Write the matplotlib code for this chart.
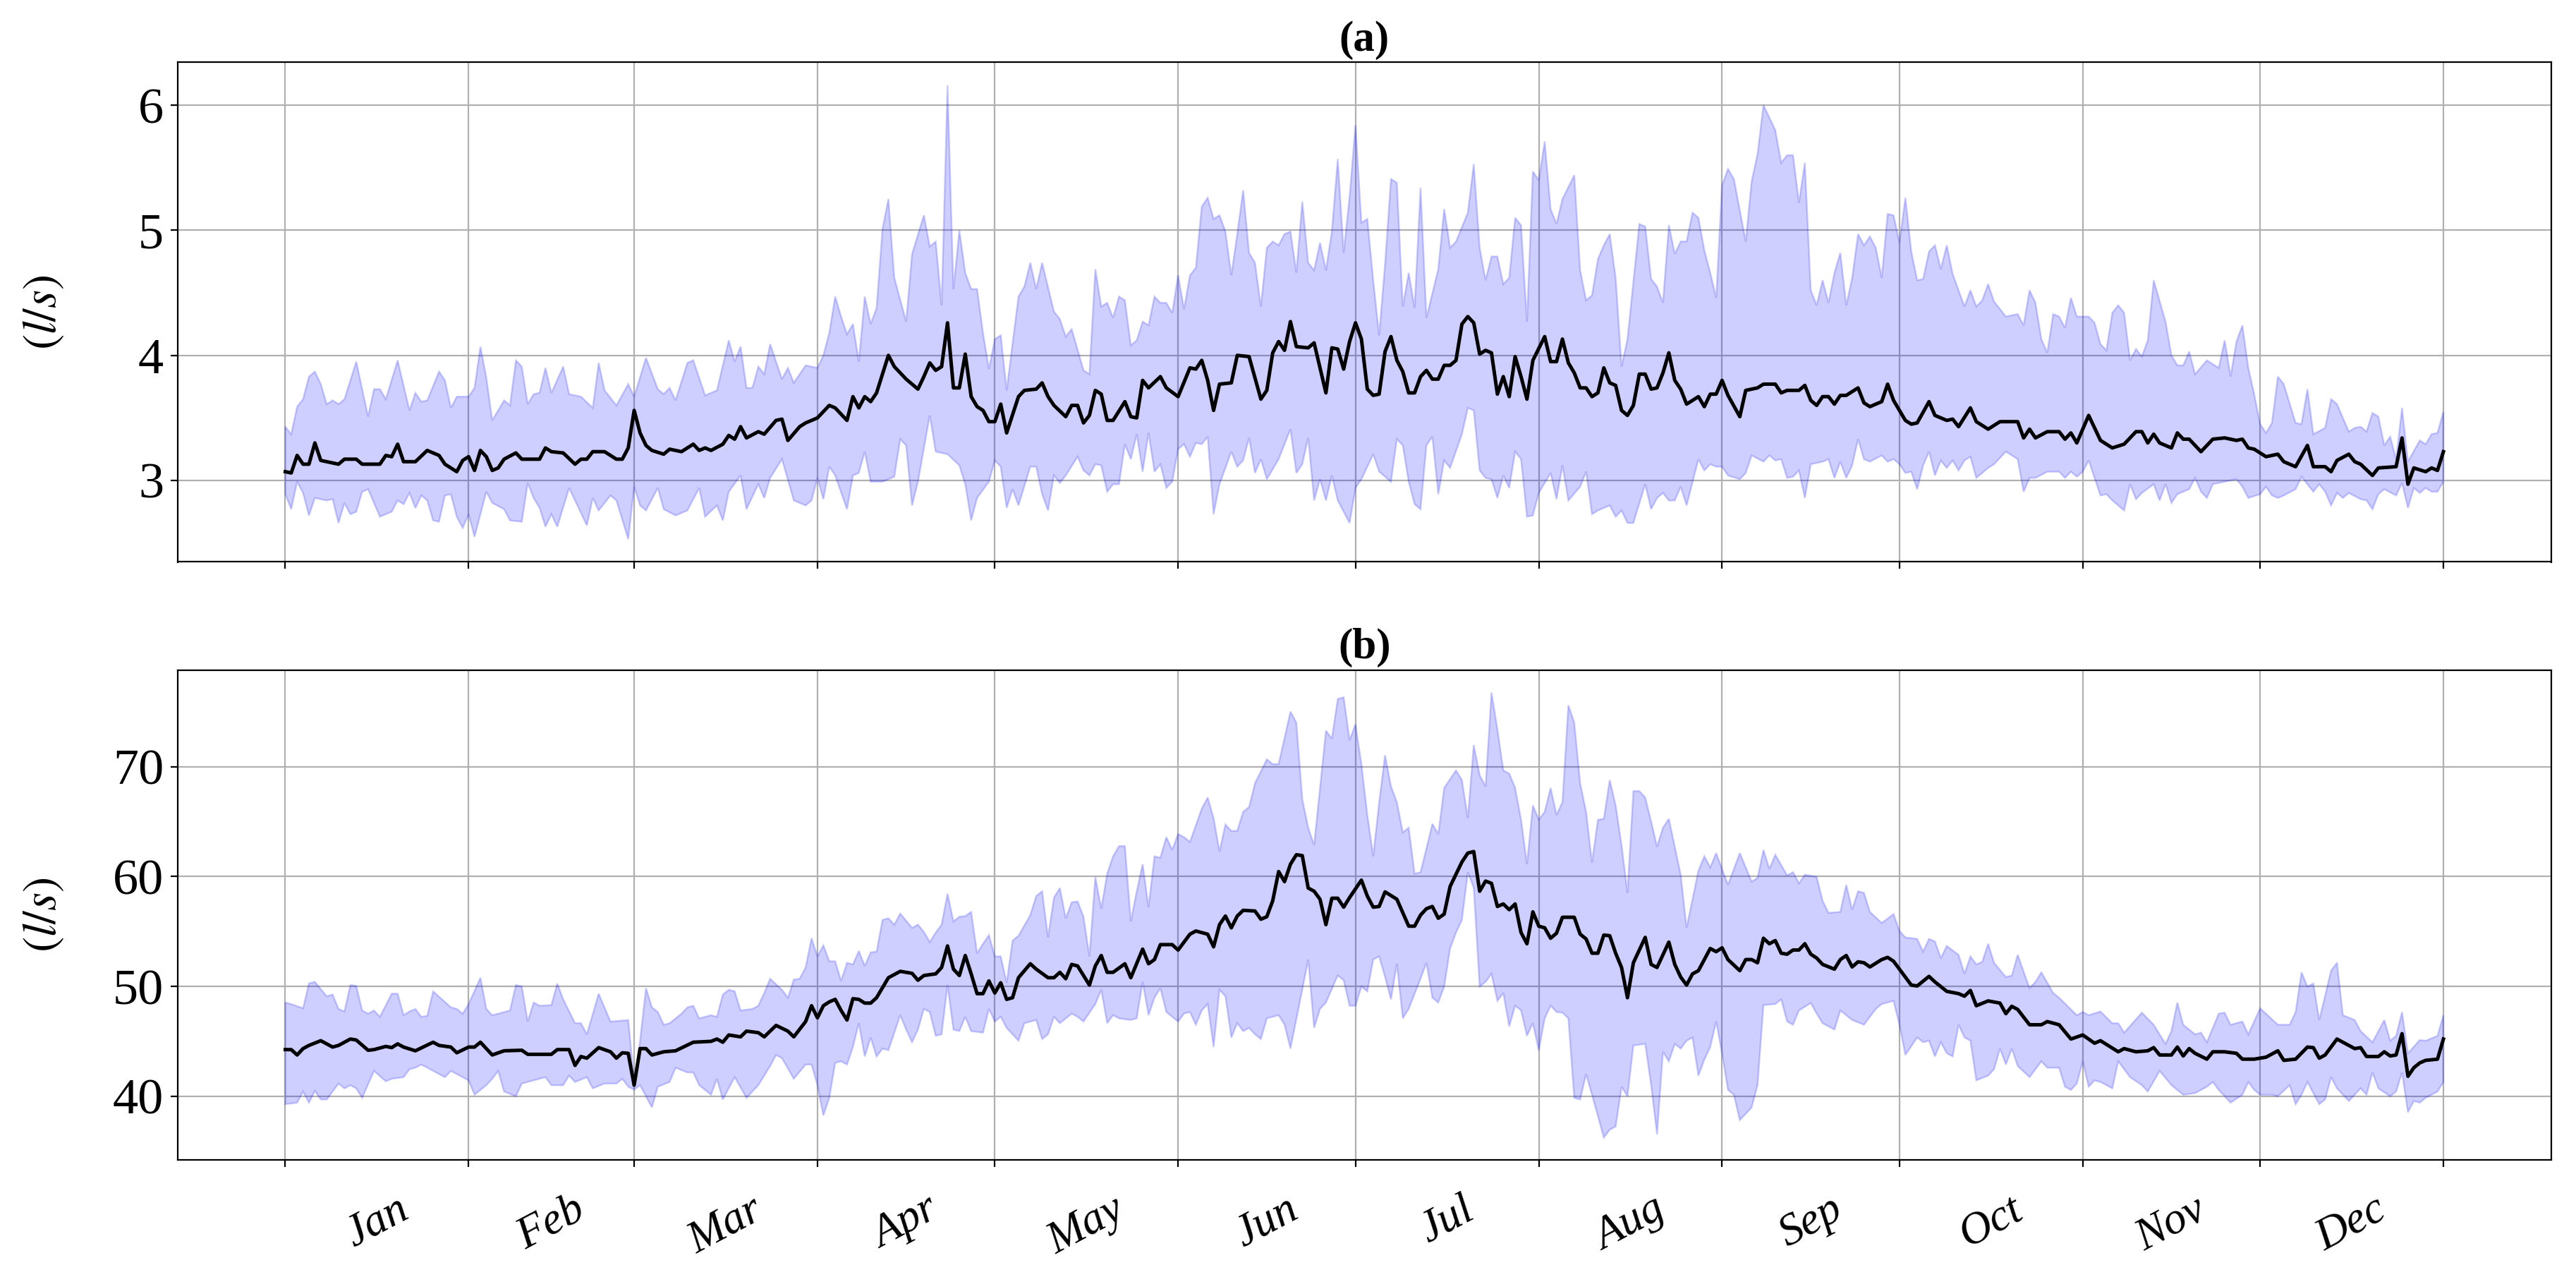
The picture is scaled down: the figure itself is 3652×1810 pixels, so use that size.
import numpy as np
import matplotlib
matplotlib.use("Agg")
import matplotlib.pyplot as plt
from matplotlib.ticker import FixedLocator, FixedFormatter, NullFormatter

plt.rcParams['font.family'] = ['Liberation Serif', 'DejaVu Serif']
plt.rcParams['mathtext.fontset'] = 'stix'

# ---------------- data ----------------
month_starts = [0, 31, 59, 90, 120, 151, 181, 212, 243, 273, 304, 334, 365]
month_names = ['Jan', 'Feb', 'Mar', 'Apr', 'May', 'Jun',
               'Jul', 'Aug', 'Sep', 'Oct', 'Nov', 'Dec']
panel_titles = ['(a)', '(b)']
y_label = '$(l/s)$'
a_yticks = [3, 4, 5, 6]
b_yticks = [40, 50, 60, 70]

# panel (a): (day of year, value)
a_mean = [(0,3.07),(1,3.06),(2,3.20),(3,3.13),(4,3.13),(5,3.30),(6,3.16),(9,3.13),(10,3.17),(12,3.17),(13,3.13),(16,3.13),(17,3.20),(18,3.19),(19,3.29),(20,3.15),(22,3.15),(24,3.24),(26,3.20),(27,3.13),(29,3.07),(30,3.16),(31,3.19),(32,3.08),(33,3.24),(34,3.19),(35,3.08),(36,3.10),(37,3.17),(39,3.22),(40,3.17),(43,3.17),(44,3.26),(45,3.23),(47,3.22),(49,3.13),(50,3.17),(51,3.17),(52,3.23),(54,3.23),(56,3.17),(57,3.17),(58,3.26),(59,3.56),(60,3.38),(61,3.28),(62,3.24),(64,3.21),(65,3.25),(67,3.23),(69,3.29),(70,3.24),(71,3.26),(72,3.24),(74,3.29),(75,3.36),(76,3.33),(77,3.43),(78,3.34),(80,3.39),(81,3.37),(83,3.48),(84,3.49),(85,3.32),(87,3.43),(88,3.46),(90,3.50),(92,3.60),(93,3.58),(95,3.48),(96,3.67),(97,3.58),(98,3.67),(99,3.63),(100,3.70),(102,4.00),(103,3.91),(105,3.81),(107,3.73),(108,3.83),(109,3.94),(110,3.88),(111,3.91),(112,4.26),(113,3.74),(114,3.74),(115,4.01),(116,3.67),(117,3.59),(118,3.56),(119,3.47),(120,3.47),(121,3.61),(122,3.38),(124,3.67),(125,3.72),(127,3.73),(128,3.78),(129,3.67),(130,3.60),(132,3.51),(133,3.60),(134,3.60),(135,3.46),(136,3.52),(137,3.72),(138,3.69),(139,3.48),(140,3.48),(142,3.63),(143,3.51),(144,3.50),(145,3.80),(146,3.74),(148,3.83),(149,3.74),(151,3.67),(153,3.90),(154,3.89),(155,3.96),(156,3.80),(157,3.56),(158,3.77),(160,3.78),(161,4.00),(163,3.99),(165,3.65),(166,3.72),(167,4.02),(168,4.11),(169,4.04),(170,4.27),(171,4.07),(173,4.06),(174,4.10),(175,3.90),(176,3.70),(177,4.06),(178,4.05),(179,3.89),(180,4.11),(181,4.26),(182,4.13),(183,3.73),(184,3.68),(185,3.69),(186,4.03),(187,4.15),(188,3.96),(189,3.87),(190,3.70),(191,3.70),(192,3.83),(193,3.88),(194,3.81),(195,3.81),(196,3.92),(197,3.92),(198,3.96),(199,4.25),(200,4.31),(201,4.26),(202,4.01),(203,4.04),(204,4.02),(205,3.69),(206,3.83),(207,3.67),(208,3.99),(209,3.83),(210,3.65),(211,3.96),(213,4.15),(214,3.95),(215,3.95),(216,4.13),(217,3.94),(218,3.86),(219,3.74),(220,3.74),(221,3.67),(222,3.70),(223,3.90),(224,3.78),(225,3.76),(226,3.56),(227,3.52),(228,3.60),(229,3.85),(230,3.85),(231,3.73),(232,3.74),(233,3.86),(234,4.02),(235,3.80),(236,3.73),(237,3.61),(239,3.67),(240,3.59),(241,3.69),(242,3.69),(243,3.80),(244,3.68),(246,3.51),(247,3.72),(249,3.74),(250,3.77),(252,3.77),(253,3.70),(254,3.72),(256,3.72),(257,3.76),(258,3.64),(259,3.60),(260,3.67),(261,3.67),(262,3.61),(263,3.68),(264,3.68),(266,3.74),(267,3.62),(268,3.59),(270,3.63),(271,3.77),(272,3.64),(273,3.56),(274,3.48),(275,3.45),(276,3.46),(278,3.63),(279,3.52),(281,3.48),(282,3.49),(283,3.43),(285,3.58),(286,3.47),(288,3.41),(290,3.47),(293,3.47),(294,3.34),(295,3.41),(296,3.34),(298,3.39),(300,3.39),(301,3.33),(302,3.38),(303,3.30),(305,3.52),(307,3.32),(309,3.26),(311,3.29),(313,3.39),(314,3.39),(315,3.30),(316,3.37),(317,3.30),(319,3.26),(320,3.38),(321,3.33),(322,3.33),(324,3.23),(326,3.33),(328,3.34),(330,3.32),(331,3.33),(332,3.26),(333,3.25),(335,3.19),(337,3.21),(338,3.15),(340,3.11),(342,3.28),(343,3.11),(345,3.11),(346,3.07),(347,3.16),(349,3.21),(350,3.15),(351,3.13),(353,3.04),(354,3.10),(357,3.11),(358,3.34),(359,2.97),(360,3.10),(362,3.07),(363,3.10),(364,3.08),(365,3.23)]

a_upper = [(0,3.43),(1,3.37),(2,3.59),(3,3.65),(4,3.83),(5,3.87),(6,3.77),(7,3.61),(8,3.64),(9,3.61),(10,3.65),(12,3.95),(14,3.51),(15,3.73),(16,3.73),(17,3.65),(19,3.96),(21,3.56),(22,3.70),(23,3.63),(24,3.64),(26,3.87),(27,3.80),(28,3.58),(29,3.67),(31,3.67),(32,3.74),(33,4.07),(34,3.82),(35,3.48),(37,3.64),(38,3.60),(39,3.96),(40,3.91),(41,3.61),(42,3.69),(43,3.70),(44,3.90),(45,3.70),(47,3.91),(48,3.69),(50,3.67),(52,3.58),(53,3.94),(54,3.72),(56,3.60),(58,3.77),(59,3.67),(61,3.98),(63,3.73),(64,3.69),(65,3.74),(66,3.64),(68,3.94),(69,3.96),(71,3.68),(73,3.72),(75,4.12),(76,3.95),(77,4.07),(78,3.74),(79,3.74),(80,3.91),(81,3.85),(82,4.09),(84,3.81),(85,3.90),(86,3.78),(88,3.92),(90,3.90),(91,4.00),(92,4.18),(93,4.47),(94,4.31),(95,4.17),(96,4.25),(97,3.95),(98,4.47),(99,4.25),(100,4.38),(101,5.01),(102,5.25),(103,4.62),(105,4.27),(106,4.81),(108,5.12),(109,4.87),(110,4.91),(111,4.40),(112,6.16),(113,4.53),(114,5.00),(115,4.66),(116,4.53),(117,4.53),(118,4.18),(119,3.89),(120,4.13),(121,4.16),(122,3.72),(124,4.47),(125,4.55),(126,4.74),(127,4.53),(128,4.74),(130,4.35),(131,4.29),(132,4.15),(133,4.21),(135,3.88),(136,3.85),(137,4.69),(138,4.39),(139,4.42),(140,4.30),(141,4.47),(142,4.44),(143,4.08),(144,4.12),(145,4.27),(146,4.24),(147,4.47),(148,4.42),(149,4.42),(150,4.34),(151,4.64),(152,4.37),(153,4.64),(154,4.70),(155,5.19),(156,5.26),(157,5.09),(158,5.12),(159,4.99),(160,4.64),(161,4.97),(162,5.32),(163,4.82),(164,4.74),(165,4.39),(166,4.86),(167,4.91),(168,4.88),(169,4.97),(170,4.99),(171,4.66),(172,5.23),(173,4.74),(174,4.68),(175,4.90),(176,4.68),(177,4.99),(178,5.57),(179,4.82),(180,5.27),(181,5.84),(182,5.06),(183,5.09),(184,4.60),(185,4.16),(186,4.73),(187,5.41),(188,5.38),(189,4.39),(190,4.66),(191,4.38),(192,5.34),(193,4.30),(195,4.69),(196,5.17),(197,4.86),(198,4.91),(200,5.14),(201,5.53),(202,4.86),(203,4.60),(204,4.79),(205,4.79),(206,4.57),(207,4.62),(208,5.10),(209,5.04),(210,4.27),(211,5.47),(212,5.40),(213,5.71),(214,5.17),(215,5.05),(216,5.25),(218,5.44),(219,4.68),(220,4.44),(221,4.48),(222,4.77),(223,4.88),(224,4.97),(225,4.62),(226,3.91),(227,4.13),(229,5.05),(230,5.03),(231,4.61),(232,4.55),(233,4.42),(234,5.04),(235,4.81),(236,4.91),(237,4.91),(238,5.14),(239,5.10),(240,4.84),(241,4.66),(242,4.46),(243,5.36),(244,5.49),(245,5.41),(247,4.91),(248,5.39),(249,5.61),(250,6.00),(252,5.80),(253,5.54),(254,5.60),(255,5.60),(256,5.22),(257,5.54),(258,4.52),(259,4.40),(260,4.60),(261,4.42),(262,4.66),(263,4.82),(264,4.40),(265,4.62),(266,4.97),(267,4.88),(268,4.95),(269,4.86),(270,4.62),(271,5.13),(272,5.12),(273,4.90),(274,5.26),(275,4.83),(276,4.60),(277,4.61),(278,4.83),(279,4.88),(280,4.69),(281,4.88),(282,4.65),(284,4.39),(285,4.52),(286,4.39),(287,4.44),(288,4.57),(289,4.43),(291,4.31),(293,4.33),(294,4.24),(295,4.52),(296,4.42),(297,4.13),(298,4.02),(299,4.33),(300,4.31),(301,4.22),(302,4.46),(303,4.31),(305,4.31),(306,4.26),(307,4.09),(308,4.04),(309,4.34),(310,4.40),(311,4.34),(312,3.96),(313,4.05),(314,3.99),(315,4.12),(316,4.60),(318,4.27),(319,4.00),(320,3.92),(321,3.92),(322,4.03),(323,3.85),(325,3.96),(327,3.90),(328,4.12),(329,3.83),(330,4.11),(331,4.24),(332,3.90),(333,3.69),(334,3.45),(335,3.38),(336,3.46),(337,3.83),(338,3.77),(340,3.46),(341,3.45),(342,3.73),(343,3.37),(345,3.42),(346,3.65),(347,3.61),(349,3.39),(350,3.42),(351,3.43),(352,3.39),(353,3.54),(354,3.51),(355,3.28),(356,3.35),(357,3.17),(358,3.58),(359,3.15),(361,3.32),(362,3.29),(363,3.37),(364,3.38),(365,3.55)]

a_lower = [(0,2.89),(1,2.77),(2,2.99),(3,2.90),(4,2.72),(5,2.86),(7,2.84),(8,2.85),(9,2.66),(10,2.82),(11,2.73),(12,2.75),(13,2.91),(14,2.93),(16,2.71),(18,2.75),(19,2.84),(20,2.81),(21,2.90),(22,2.78),(23,2.88),(24,2.84),(25,2.68),(26,2.67),(27,2.88),(28,2.89),(29,2.71),(30,2.62),(31,2.73),(32,2.55),(34,2.91),(35,2.82),(37,2.77),(38,2.68),(40,2.67),(41,2.98),(42,2.86),(43,2.78),(44,2.63),(45,2.73),(46,2.63),(48,2.94),(49,2.84),(51,2.64),(52,2.86),(53,2.76),(55,2.88),(56,2.84),(58,2.53),(59,2.95),(60,2.80),(61,2.76),(63,2.94),(64,2.77),(66,2.72),(68,2.76),(70,2.94),(71,2.71),(73,2.80),(74,2.68),(75,2.91),(77,3.04),(78,2.77),(80,2.97),(81,2.86),(82,3.02),(84,3.17),(86,2.84),(88,2.80),(89,2.84),(90,3.02),(91,2.85),(92,3.11),(93,3.04),(95,2.77),(96,3.04),(97,3.06),(98,3.23),(99,2.99),(101,2.99),(103,3.03),(104,3.33),(105,3.28),(106,2.80),(107,2.99),(109,3.52),(110,3.23),(112,3.21),(114,3.12),(115,2.97),(116,2.68),(117,2.86),(119,2.99),(120,3.16),(121,3.11),(122,2.78),(123,2.93),(124,2.80),(126,3.11),(127,3.11),(128,2.89),(129,2.76),(130,3.04),(131,2.98),(132,3.04),(134,3.19),(135,3.08),(136,3.04),(137,3.13),(138,3.12),(139,2.91),(140,2.97),(141,2.97),(142,3.29),(143,3.17),(144,3.37),(145,3.07),(146,3.38),(147,3.07),(148,3.13),(149,2.94),(150,2.99),(151,3.25),(152,3.29),(153,3.19),(154,3.30),(155,3.29),(156,3.35),(157,2.73),(158,2.97),(160,3.23),(161,3.11),(162,3.16),(163,3.34),(164,3.06),(165,3.17),(166,3.01),(168,3.17),(170,3.41),(171,3.06),(172,3.13),(173,3.34),(174,2.84),(175,3.01),(176,2.84),(177,3.04),(178,2.84),(180,2.66),(181,2.94),(182,3.01),(184,3.21),(185,3.07),(186,3.03),(187,2.99),(188,3.33),(189,3.28),(190,2.99),(191,2.81),(192,2.77),(193,3.28),(194,3.35),(195,2.89),(196,3.16),(197,3.10),(199,3.37),(200,3.58),(201,3.56),(202,3.08),(203,3.02),(204,3.01),(205,2.86),(206,3.04),(207,2.94),(208,3.23),(209,3.17),(210,2.71),(211,2.72),(212,2.90),(214,3.06),(215,2.85),(216,3.12),(217,2.84),(219,2.95),(220,3.07),(221,2.73),(222,2.76),(224,2.80),(225,2.71),(226,2.76),(227,2.66),(228,2.66),(230,2.97),(231,2.77),(232,2.86),(233,2.90),(234,2.84),(235,2.84),(236,2.95),(237,2.80),(239,3.17),(240,3.08),(241,3.13),(242,3.11),(243,3.11),(244,3.04),(246,3.01),(247,3.06),(248,3.20),(250,3.15),(251,3.20),(252,3.16),(253,3.17),(254,3.02),(255,3.03),(256,3.08),(257,2.86),(258,3.13),(260,3.15),(261,3.17),(262,3.02),(263,3.15),(264,3.02),(265,3.12),(266,3.33),(267,3.17),(268,3.15),(270,3.20),(271,3.15),(272,3.17),(273,3.13),(274,3.06),(275,3.07),(276,2.93),(277,3.12),(278,3.23),(279,3.04),(280,3.16),(281,3.10),(282,3.16),(283,3.08),(284,3.16),(285,3.19),(286,3.02),(288,3.10),(289,3.13),(291,3.23),(293,3.17),(294,2.91),(295,3.02),(296,3.02),(298,3.07),(300,3.07),(301,3.02),(302,3.07),(303,3.03),(304,3.07),(305,3.16),(307,2.88),(308,2.89),(309,2.84),(311,2.76),(312,2.97),(313,2.85),(314,2.90),(316,2.97),(317,2.84),(318,2.97),(319,2.82),(320,2.89),(322,2.93),(323,3.02),(324,2.91),(325,2.86),(326,2.97),(328,2.99),(330,3.01),(331,2.95),(332,2.86),(334,2.89),(335,2.95),(336,2.88),(337,2.86),(338,2.88),(340,2.93),(341,3.03),(343,2.91),(344,2.97),(345,2.91),(346,2.80),(347,2.90),(348,2.86),(349,2.90),(351,2.85),(352,2.84),(353,2.77),(354,2.89),(355,2.93),(357,2.88),(358,2.98),(359,2.78),(360,2.94),(361,2.90),(362,2.94),(363,2.91),(364,2.91),(365,2.99)]

# panel (b): (day of year, value)
b_mean = [(0,44.25),(1,44.25),(2,43.76),(3,44.34),(4,44.63),(6,45.06),(8,44.48),(9,44.63),(11,45.21),(12,45.12),(14,44.19),(15,44.25),(17,44.54),(18,44.43),(19,44.77),(20,44.48),(22,44.14),(25,44.92),(26,44.63),(28,44.48),(29,43.96),(31,44.48),(32,44.48),(33,44.92),(35,43.76),(37,44.14),(40,44.19),(41,43.82),(45,43.82),(46,44.25),(48,44.25),(49,42.81),(50,43.62),(51,43.47),(53,44.43),(55,44.05),(56,43.47),(57,43.96),(58,43.91),(59,41.01),(60,44.34),(61,44.34),(62,43.76),(64,44.05),(66,44.14),(69,44.92),(72,45.00),(73,45.21),(74,44.92),(75,45.58),(77,45.41),(78,45.93),(80,45.79),(81,45.41),(83,46.45),(85,45.93),(86,45.41),(88,46.80),(89,48.24),(90,47.14),(91,48.24),(92,48.59),(93,48.82),(94,47.81),(95,46.94),(96,48.88),(97,48.82),(98,48.48),(99,48.48),(100,48.97),(102,50.79),(104,51.37),(106,51.19),(107,50.56),(108,50.99),(110,51.14),(111,51.72),(112,53.68),(113,51.57),(114,50.99),(115,52.81),(116,51.14),(117,49.34),(118,49.34),(119,50.50),(120,49.40),(121,50.33),(122,48.82),(123,48.97),(124,50.79),(126,52.06),(127,51.57),(129,50.79),(130,50.79),(131,51.28),(132,50.70),(133,52.00),(134,51.86),(136,50.12),(137,51.86),(138,52.81),(139,51.28),(140,51.28),(142,52.06),(143,50.79),(145,53.39),(146,52.06),(147,52.44),(148,53.80),(150,53.80),(151,53.31),(153,54.75),(154,55.04),(156,54.75),(157,53.60),(158,55.62),(159,56.40),(160,55.33),(161,56.40),(162,56.92),(164,56.86),(165,56.11),(166,56.34),(167,57.79),(168,60.45),(169,59.53),(170,61.12),(171,61.98),(172,61.90),(173,58.95),(174,58.66),(175,57.93),(176,55.62),(177,58.02),(178,58.02),(179,57.21),(180,58.08),(182,59.67),(183,58.22),(184,57.21),(185,57.27),(186,58.60),(188,57.93),(190,55.48),(191,55.48),(192,56.49),(193,57.07),(194,57.27),(195,56.20),(196,56.58),(197,59.09),(199,61.32),(200,62.13),(201,62.27),(202,58.66),(203,59.58),(204,59.38),(205,57.27),(206,57.50),(207,56.98),(208,57.50),(209,54.90),(210,53.88),(211,56.78),(212,55.48),(213,55.33),(214,54.38),(215,54.84),(216,56.29),(218,56.29),(219,54.75),(220,54.32),(221,53.02),(222,53.02),(223,54.67),(224,54.61),(225,53.02),(226,51.72),(227,48.97),(228,52.15),(230,54.46),(231,52.00),(232,51.72),(234,54.03),(235,52.00),(236,50.85),(237,50.12),(238,51.14),(239,51.43),(241,53.45),(242,53.16),(243,53.51),(244,52.44),(246,51.43),(247,52.44),(248,52.44),(249,52.15),(250,54.38),(251,53.88),(252,54.17),(253,53.02),(254,52.93),(255,53.31),(256,53.31),(257,53.88),(258,52.93),(259,52.58),(260,52.00),(262,51.57),(263,52.44),(264,52.81),(265,51.77),(266,52.24),(267,52.15),(268,51.77),(270,52.44),(271,52.64),(272,52.29),(273,51.57),(275,50.12),(276,50.04),(278,50.91),(279,50.41),(281,49.55),(283,49.34),(284,49.11),(285,49.63),(286,48.24),(288,48.68),(290,48.48),(291,47.52),(292,48.19),(293,47.90),(295,46.51),(297,46.51),(298,46.80),(300,46.51),(302,45.21),(304,45.58),(306,44.83),(307,45.06),(310,44.05),(311,44.34),(313,44.05),(315,44.14),(316,44.43),(317,43.76),(319,43.76),(320,44.48),(321,43.67),(322,44.34),(323,43.91),(325,43.38),(326,44.05),(328,44.05),(330,43.91),(331,43.38),(333,43.38),(335,43.56),(337,44.14),(338,43.27),(340,43.38),(342,44.48),(343,44.43),(344,43.47),(345,43.76),(347,45.21),(348,44.92),(350,44.34),(351,44.43),(352,43.62),(354,43.62),(355,44.05),(356,43.67),(357,43.76),(358,45.70),(359,41.82),(360,42.60),(361,43.04),(362,43.27),(364,43.38),(365,45.21)]

b_upper = [(0,48.53),(1,48.39),(3,48.01),(4,50.27),(5,50.41),(7,49.10),(8,49.26),(9,47.95),(10,47.72),(11,50.12),(12,50.04),(13,47.81),(14,47.52),(15,47.81),(16,47.23),(18,49.34),(19,49.34),(20,47.38),(21,47.72),(22,47.95),(23,47.23),(24,47.32),(25,49.55),(28,48.10),(29,47.95),(30,47.52),(31,48.39),(33,50.79),(34,47.95),(35,47.38),(36,47.52),(38,47.81),(39,50.12),(40,49.98),(41,46.80),(42,48.53),(43,48.24),(45,48.30),(46,50.27),(47,48.82),(49,46.65),(50,46.65),(51,45.64),(53,49.34),(55,46.80),(58,46.94),(59,41.30),(60,45.06),(61,49.84),(62,48.10),(63,47.67),(64,46.51),(65,46.65),(67,47.52),(68,48.10),(69,48.24),(70,47.09),(72,47.38),(73,47.23),(74,49.26),(75,49.69),(76,49.55),(77,47.81),(79,47.95),(80,48.24),(81,49.40),(82,50.70),(84,49.69),(85,48.97),(86,50.62),(87,50.70),(88,51.72),(89,54.38),(90,52.73),(91,53.74),(92,52.29),(93,52.29),(94,50.50),(95,52.15),(96,52.00),(97,53.22),(98,51.86),(99,53.10),(100,53.16),(101,56.05),(102,56.20),(103,55.62),(104,56.63),(106,55.33),(107,55.62),(108,54.96),(109,54.03),(110,54.90),(111,55.62),(112,58.43),(113,55.91),(114,56.34),(115,56.40),(116,56.78),(117,53.02),(118,53.88),(119,54.67),(120,52.73),(121,52.73),(122,50.33),(123,54.17),(124,54.61),(126,56.49),(127,58.22),(128,58.66),(129,54.46),(130,58.08),(131,58.95),(132,56.20),(133,57.65),(134,57.73),(135,56.34),(136,52.73),(137,59.96),(138,57.07),(139,60.25),(140,61.84),(141,62.77),(142,62.77),(143,55.91),(144,58.66),(145,61.12),(146,57.21),(147,61.84),(148,61.70),(149,63.58),(150,62.42),(151,63.86),(152,63.58),(153,63.14),(155,66.18),(156,67.19),(157,65.31),(158,62.27),(159,64.73),(160,64.15),(161,64.15),(162,65.89),(163,66.32),(164,68.49),(166,70.66),(167,70.23),(168,70.23),(170,75.00),(171,73.99),(172,67.05),(173,64.44),(174,62.85),(175,68.06),(176,73.27),(177,72.54),(178,76.16),(179,76.30),(180,72.40),(181,73.84),(182,70.23),(183,65.60),(184,61.84),(185,66.76),(186,71.04),(187,68.20),(188,66.76),(189,64.01),(190,64.44),(191,60.25),(192,60.39),(193,62.56),(194,64.79),(195,63.86),(196,68.06),(198,69.65),(199,68.78),(200,65.31),(201,71.96),(202,69.22),(203,68.20),(204,76.74),(205,73.41),(206,69.65),(207,69.36),(208,68.06),(209,65.17),(210,61.12),(211,66.47),(212,65.17),(213,65.89),(214,68.06),(215,65.60),(216,66.76),(217,75.58),(218,73.99),(219,68.49),(220,65.89),(221,61.26),(222,65.17),(223,65.25),(224,68.78),(225,66.47),(226,62.85),(227,58.51),(228,67.77),(229,67.77),(230,67.19),(231,65.02),(232,62.71),(233,64.44),(234,65.25),(235,62.71),(236,60.16),(237,55.33),(239,60.54),(240,61.84),(241,60.83),(242,62.13),(243,60.68),(244,59.24),(246,62.13),(248,59.53),(249,59.87),(250,62.42),(251,60.68),(252,61.98),(254,60.10),(255,60.39),(256,59.38),(257,60.16),(259,59.96),(260,57.79),(261,56.69),(263,56.78),(264,59.24),(265,56.98),(266,58.66),(267,58.51),(268,56.78),(270,55.77),(272,56.58),(273,55.04),(274,54.46),(276,54.32),(277,53.16),(278,54.32),(279,54.09),(280,52.58),(281,53.68),(283,52.87),(284,51.14),(285,52.73),(286,52.00),(287,52.24),(288,53.88),(289,52.15),(291,50.85),(292,50.99),(293,52.87),(295,49.84),(296,50.41),(297,51.28),(299,49.40),(300,48.97),(303,47.38),(304,47.67),(305,47.38),(307,47.72),(309,46.65),(310,46.65),(311,45.79),(314,47.61),(316,46.51),(318,44.77),(319,45.93),(320,48.53),(321,46.51),(323,45.64),(324,45.79),(325,44.92),(327,47.52),(328,47.61),(329,46.51),(331,46.80),(332,45.64),(334,48.01),(337,46.51),(339,46.51),(340,47.67),(341,51.28),(342,49.98),(343,50.27),(344,46.94),(346,51.43),(347,52.15),(348,47.38),(350,46.94),(351,45.93),(353,44.92),(355,46.94),(356,45.06),(357,45.50),(358,47.67),(359,43.91),(361,45.12),(362,45.06),(364,45.50),(365,47.38)]

b_lower = [(0,39.28),(2,39.42),(3,40.43),(4,39.42),(5,40.49),(6,39.71),(7,39.71),(9,41.16),(10,40.72),(11,41.01),(12,40.72),(13,39.86),(15,42.31),(17,41.36),(18,41.59),(20,41.74),(21,42.46),(22,42.60),(23,42.89),(25,42.31),(27,41.74),(28,42.31),(29,42.02),(31,41.45),(32,40.14),(34,41.01),(35,41.59),(36,42.31),(37,40.43),(39,40.00),(40,41.16),(42,41.45),(44,41.74),(45,41.01),(47,41.01),(48,41.88),(49,41.30),(51,41.74),(52,40.72),(54,41.16),(56,41.16),(57,41.59),(58,40.87),(59,40.60),(60,41.01),(62,38.99),(63,40.87),(65,41.30),(66,42.60),(68,42.17),(69,42.17),(70,41.01),(72,40.14),(73,41.59),(74,39.71),(76,41.74),(78,39.86),(80,41.01),(82,42.75),(83,43.76),(84,43.47),(86,41.59),(88,42.89),(89,42.89),(90,41.01),(91,38.26),(92,39.86),(93,43.04),(94,43.18),(95,42.89),(96,44.48),(97,46.65),(98,43.62),(99,45.35),(100,43.62),(101,44.34),(102,44.19),(104,47.38),(105,46.07),(106,44.92),(107,46.07),(108,47.95),(109,47.67),(110,45.50),(111,45.64),(112,50.12),(113,46.07),(114,45.93),(115,47.23),(116,45.93),(118,45.79),(119,47.95),(120,46.80),(121,47.23),(122,46.22),(124,45.06),(125,46.65),(127,46.94),(128,45.21),(129,45.64),(130,47.23),(131,46.65),(133,47.52),(134,47.23),(135,46.80),(137,48.39),(138,49.69),(139,46.65),(140,47.38),(141,47.09),(143,46.94),(144,47.09),(145,50.41),(146,47.38),(147,48.97),(148,49.84),(149,47.67),(151,46.80),(152,47.52),(153,47.67),(154,46.51),(155,47.81),(156,48.39),(157,44.48),(158,49.69),(159,49.11),(160,45.35),(161,46.65),(162,45.93),(163,46.22),(164,45.64),(165,45.21),(166,47.09),(168,47.38),(169,46.51),(170,44.34),(172,49.69),(173,52.44),(174,46.22),(175,47.95),(176,48.53),(178,50.99),(179,50.56),(180,48.24),(181,48.24),(182,49.98),(183,49.55),(184,52.44),(185,52.73),(186,50.85),(187,48.82),(188,52.06),(189,47.09),(190,47.95),(192,50.70),(193,52.15),(194,48.97),(195,48.53),(196,49.98),(197,53.45),(198,54.90),(199,56.05),(200,60.39),(201,58.95),(202,49.98),(203,50.41),(204,51.14),(205,48.68),(206,49.40),(207,46.36),(208,48.24),(209,47.81),(210,45.50),(211,46.65),(212,44.19),(213,47.09),(214,48.24),(215,47.67),(216,47.61),(217,47.09),(218,39.86),(219,39.71),(220,42.02),(221,40.14),(223,36.24),(224,36.96),(225,37.25),(226,40.87),(227,40.00),(228,44.63),(230,44.77),(231,41.01),(232,36.53),(233,44.05),(234,43.18),(235,44.77),(236,44.34),(237,45.06),(238,45.35),(239,41.88),(240,43.33),(241,44.48),(242,46.80),(243,43.91),(244,40.58),(245,40.14),(246,37.83),(248,38.99),(249,41.01),(250,48.30),(252,48.39),(253,48.82),(254,46.80),(255,46.51),(256,47.81),(258,48.48),(259,47.52),(260,46.65),(262,46.07),(263,47.81),(265,46.94),(267,46.51),(269,47.95),(270,48.39),(272,48.68),(273,46.51),(274,43.76),(276,45.35),(277,44.92),(278,45.06),(279,43.62),(280,44.92),(281,43.91),(282,43.62),(283,46.51),(284,45.35),(285,45.06),(286,41.45),(288,41.88),(289,42.46),(290,44.34),(291,42.89),(292,44.34),(293,42.75),(295,41.74),(297,43.18),(298,42.60),(300,42.60),(301,40.87),(302,40.58),(303,41.16),(304,43.18),(305,40.87),(306,41.45),(307,41.30),(309,40.72),(310,43.18),(312,41.74),(314,41.01),(315,40.43),(317,42.31),(319,41.01),(321,40.14),(323,40.29),(325,40.87),(326,41.30),(327,40.58),(329,39.42),(331,40.14),(332,41.30),(333,40.58),(334,40.14),(336,40.14),(337,40.00),(339,41.01),(340,39.28),(341,40.14),(342,41.30),(344,39.28),(345,39.71),(346,41.74),(347,40.72),(349,39.57),(351,40.72),(352,40.14),(353,42.17),(354,40.72),(356,40.00),(357,40.43),(358,42.17),(359,38.55),(360,39.57),(361,39.42),(362,39.86),(364,40.43),(365,41.30)]

# ---------------- figure ----------------
W, H, DPI = 3652, 1810, 200
fig = plt.figure(figsize=(W / DPI, H / DPI), dpi=DPI)
left, right = 251.5 / W, 3617 / W
ax1 = fig.add_axes([left, 1 - 796.5 / H, right - left, (796.5 - 88.5) / H])
ax2 = fig.add_axes([left, 1 - 1644 / H, right - left, (1644 - 950) / H], sharex=ax1)

panels = [(ax1, a_mean, a_upper, a_lower, a_yticks),
          (ax2, b_mean, b_upper, b_lower, b_yticks)]

mid_months = [(month_starts[i] + month_starts[i + 1]) / 2 for i in range(12)]

for k, (ax, mean, upper, lower, yt) in enumerate(panels):
    ud, uv = zip(*upper)
    ld, lv = zip(*lower)
    md, mv = zip(*mean)
    xs = np.concatenate([ud, ld[::-1]])
    ys = np.concatenate([uv, lv[::-1]])
    ax.fill(xs, ys, facecolor='blue', edgecolor='blue', alpha=0.19, linewidth=0.9, zorder=2)
    ax.plot(md, mv, color='black', linewidth=1.8, zorder=3)
    ax.set_axisbelow(True)
    ax.grid(True, which='major', color='#b0b0b0', linewidth=0.8)
    ax.set_yticks(yt)
    ax.tick_params(axis='y', labelsize=26)
    ax.set_ylabel(y_label, fontsize=24)
    ax.yaxis.set_label_coords(-0.047, 0.5)
    ax.set_title(panel_titles[k], fontsize=22, fontweight='bold', pad=6)

ax2.xaxis.set_major_locator(FixedLocator(month_starts))
ax2.xaxis.set_major_formatter(NullFormatter())
ax2.xaxis.set_minor_locator(FixedLocator(mid_months))
ax2.xaxis.set_minor_formatter(FixedFormatter(month_names))
for ax in (ax1, ax2):
    ax.tick_params(axis='x', which='minor', length=0)
ax2.tick_params(axis='x', which='minor', labelsize=23, pad=15)
for lab in ax2.get_xticklabels(minor=True):
    lab.set_rotation(28)
    lab.set_fontstyle('italic')
    lab.set_ha('center')
ax1.tick_params(axis='x', which='both', labelbottom=False)

fig.savefig('out.png', dpi=DPI)
